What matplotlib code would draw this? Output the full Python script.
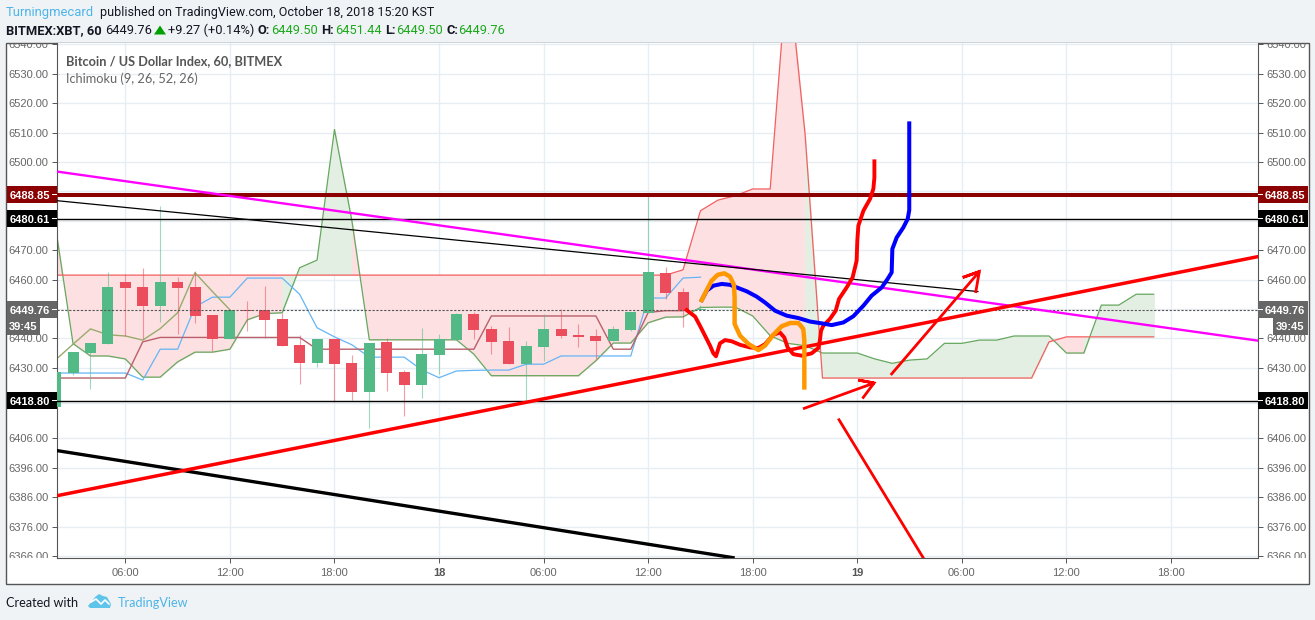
from matplotlib import pyplot as plt
from matplotlib.patches import Rectangle, Polygon
from matplotlib.transforms import Bbox

# hours relative to 18 Oct 00:00
candle_hours = [-22, -21, -20, -19, -18, -17, -16, -15, -14, -13, -12, -11, -10, -9, -8, -7, -6, -5, -4,
                -3, -2, -1, 0, 1, 2, 3, 4, 5, 6, 7, 8, 9, 10, 11, 12, 13, 14, 15]
opens = [6416.5, 6428.2, 6435.1, 6438.2, 6459.3, 6457.6, 6451.1, 6459.3, 6457.6, 6448.0, 6439.9, 6449.8, 6449.7,
         6446.7, 6437.8, 6431.7, 6439.9, 6431.7, 6421.8,
         6438.8, 6428.6, 6424.2, 6434.4, 6439.5, 6448.4, 6443.3, 6439.2, 6431.2, 6437.1, 6443.3, 6441.2, 6440.9,
         6439.2, 6442.9, 6448.7, 6462.3, 6455.9, 6449.50]
highs = [6428.4, 6435.4, 6438.5, 6462.7, 6461.9, 6464.0, 6485.0, 6461.0, 6463.0, 6448.0, 6449.9, 6452.8, 6457.9,
         6448.7, 6441.2, 6439.9, 6439.9, 6434.4, 6438.5,
         6440.2, 6429.3, 6443.6, 6441.6, 6448.7, 6449.0, 6444.3, 6443.9, 6439.2, 6448.4, 6450.0, 6445.0, 6443.3,
         6444.3, 6449.0, 6489.0, 6464.4, 6457.2, 6451.44]
lows = [6416.5, 6427.6, 6422.6, 6438.2, 6440.9, 6439.8, 6445.6, 6441.6, 6445.3, 6435.8, 6439.9, 6442.6, 6440.2,
        6437.5, 6424.6, 6430.1, 6418.2, 6419.1, 6409.6,
        6422.2, 6413.7, 6419.8, 6428.0, 6439.5, 6439.9, 6434.8, 6431.4, 6419.1, 6432.4, 6440.2, 6437.1, 6433.0,
        6439.2, 6442.6, 6448.7, 6453.5, 6443.9, 6449.50]
closes = [6428.4, 6435.4, 6438.5, 6457.6, 6457.2, 6451.1, 6459.3, 6457.2, 6447.7, 6439.9, 6449.7, 6449.4, 6446.3,
          6437.5, 6431.7, 6439.9, 6431.4, 6421.8, 6438.5,
          6428.3, 6424.2, 6434.8, 6439.9, 6448.4, 6442.9, 6438.8, 6431.4, 6437.5, 6443.3, 6440.9, 6440.5, 6439.2,
          6443.3, 6449.0, 6462.7, 6455.5, 6449.4, 6449.76]

cloud_hours = list(range(-22, 42))
lead_a = [6477.7, 6438.2, 6434.0, 6434.0, 6433.0, 6426.8, 6426.8, 6432.0, 6435.3, 6435.3, 6436.3, 6446.3, 6448.4,
          6448.7, 6464.0, 6466.6, 6511.0, 6480.0, 6439.5, 6439.5, 6439.5, 6439.5, 6439.5, 6439.5, 6434.6, 6427.3,
          6427.3, 6427.3, 6427.3, 6427.3, 6427.3, 6432.4, 6438.4, 6438.4, 6445.3, 6447.2, 6447.3, 6450.5, 6450.6,
          6450.6, 6447.6, 6440.9, 6438.3, 6437.5, 6435.0, 6435.0, 6435.0, 6433.0, 6431.5, 6432.6, 6433.0, 6438.3,
          6438.3, 6439.4, 6439.4, 6440.8, 6440.8, 6440.8, 6435.0, 6435.0, 6451.3, 6451.3, 6455.0, 6455.0]
lead_b = [6461.5, 6461.5, 6461.5, 6461.5, 6461.5, 6461.5, 6461.5, 6461.5, 6461.5, 6461.5, 6461.5, 6461.5, 6461.5,
          6461.5, 6461.5, 6461.5, 6461.5, 6461.5, 6461.5, 6461.5, 6461.5, 6461.5, 6461.5, 6461.5, 6461.5, 6461.5,
          6461.5, 6461.5, 6461.5, 6461.5, 6461.5, 6461.5, 6461.5, 6461.5, 6461.5, 6461.5, 6463.3, 6483.4, 6487.0,
          6488.5, 6490.8, 6490.8, 6567.0, 6509.6, 6426.5, 6426.5, 6426.5, 6426.5, 6426.5, 6426.5, 6426.5, 6426.5,
          6426.5, 6426.5, 6426.5, 6426.5, 6426.5, 6438.8, 6440.5, 6440.5, 6440.5, 6440.5, 6440.5, 6440.5]

line_hours = list(range(-22, 16))
conversion = [6428.2, 6428.2, 6428.2, 6428.2, 6428.2, 6425.8, 6436.3, 6436.3, 6450.7, 6454.0, 6454.0, 6460.5, 6460.5,
              6460.5, 6455.0, 6443.6, 6440.5, 6437.8, 6433.6, 6433.6, 6433.6, 6429.3, 6426.6, 6428.9, 6429.1, 6429.2,
              6429.2, 6431.2, 6431.2, 6434.0, 6434.0, 6434.0, 6434.0, 6434.0, 6453.7, 6453.7, 6460.5, 6460.8]
base_line = [6426.5, 6426.5, 6426.5, 6426.5, 6426.5, 6438.8, 6440.3, 6440.3, 6440.3, 6440.3, 6440.3, 6440.3, 6440.3,
             6440.3, 6440.3, 6436.3, 6436.3, 6436.3, 6436.3, 6436.3, 6436.3, 6436.3, 6436.3, 6436.3, 6436.3, 6447.6,
             6447.6, 6447.6, 6447.6, 6447.6, 6447.6, 6447.6, 6436.3, 6436.3, 6448.8, 6449.4, 6449.4]
lagging_hours = [-22, -21, -20, -19, -18, -17, -16, -15, -14, -13, -12]
lagging = [6432.7, 6438.0, 6443.2, 6441.2, 6440.8, 6439.4, 6443.3, 6448.7, 6462.3, 6455.9, 6449.7]

# hand drawn lines (hour, price)
magenta_x, magenta_y = [-21.9, 47.0], [6496.7, 6439.2]
thin_black_x, thin_black_y = [-21.9, 30.92], [6486.8, 6455.9]
red_trend_x, red_trend_y = [-21.9, 47.0], [6386.5, 6467.8]
thick_black_x, thick_black_y = [-21.9, 16.87], [6401.8, 6365.4]
red_curve_x = [14.21, 14.69, 14.97, 15.26, 15.55, 15.74, 15.89, 15.99, 16.12, 16.41, 16.79, 17.27, 17.84, 18.32, 18.70,
               19.18, 19.56, 19.81, 20.00, 20.33, 20.81, 21.38, 21.76, 21.85, 21.92, 22.05, 22.43, 22.76, 22.95, 23.39,
               23.73, 23.96, 24.00, 24.06, 24.35, 24.73, 24.92, 24.98, 24.98]
red_curve_y = [6449.6, 6447.4, 6444.3, 6440.9, 6437.5, 6434.9, 6433.9, 6435.8, 6438.3, 6439.4, 6439.0, 6437.8, 6436.9,
               6436.7, 6438.0, 6441.2, 6442.0, 6440.3, 6436.9, 6434.6, 6434.1, 6434.9, 6436.7, 6439.2, 6442.6, 6444.3,
               6446.6, 6449.4, 6453.4, 6457.3, 6460.7, 6466.4, 6473.2, 6478.3, 6483.4, 6487.4, 6490.8, 6494.7, 6500.2]
blue_curve_x = [15.07, 15.36, 15.74, 16.22, 16.69, 17.17, 17.65, 18.22, 18.70, 19.28, 19.95, 20.62, 21.29, 21.95, 22.53,
                23.20, 23.77, 24.35, 24.82, 25.40, 25.74, 25.97, 26.01, 26.26, 26.64, 26.89, 26.98, 26.98]
blue_curve_y = [6453.0, 6456.2, 6457.9, 6458.5, 6458.2, 6457.1, 6456.0, 6454.2, 6452.2, 6449.4, 6447.7, 6446.9, 6445.7,
                6445.1, 6444.5, 6445.4, 6447.5, 6451.1, 6454.5, 6457.3, 6460.2, 6462.4, 6470.4, 6474.3, 6477.7, 6480.6,
                6483.6, 6513.1]
orange_curve_x = [15.07, 15.36, 15.64, 15.99, 16.37, 16.69, 16.92, 16.96, 16.96, 17.27, 17.75, 18.32, 18.70, 19.18, 19.66,
                  20.14, 20.62, 20.90, 20.96, 20.96]
orange_curve_y = [6453.0, 6456.4, 6459.6, 6461.6, 6462.1, 6461.0, 6458.2, 6453.9, 6444.9, 6440.9, 6438.1, 6436.0, 6437.5,
                  6441.2, 6444.1, 6445.2, 6445.2, 6443.2, 6439.2, 6423.3]
arrow1_x = [20.96, 24.96, 24.06, 24.96, 24.34]
arrow1_y = [6416.2, 6424.8, 6425.8, 6424.8, 6419.9]
arrow2_x = [25.97, 31.0, 30.05, 31.0, 30.8]
arrow2_y = [6427.9, 6462.7, 6460.7, 6462.7, 6455.9]
red_diag_x, red_diag_y = [22.95, 27.88], [6412.3, 6364.4]

y_ticks = [6540, 6530, 6520, 6510, 6500, 6490, 6480, 6470, 6460, 6450, 6440, 6430, 6418, 6406, 6396, 6386, 6376, 6366]
y_labels = ['6540.00', '6530.00', '6520.00', '6510.00', '6500.00', '', '', '6470.00', '6460.00', '', '6440.00',
            '6430.00', '', '6406.00', '6396.00', '6386.00', '6376.00', '6366.00']
x_ticks = [-18, -12, -6, 0, 6, 12, 18, 24, 30, 36, 42]
x_labels = ['06:00', '12:00', '18:00', '18', '06:00', '12:00', '18:00', '19', '06:00', '12:00', '18:00']

# price, text, colour of the scale tags
tag_prices = [6488.85, 6480.61, 6449.76, 6418.80]
tag_texts = ['6488.85', '6480.61', '6449.76', '6418.80']
tag_colors = ['#8b0000', '#000000', '#666666', '#000000']

GREEN = '#53b987'
RED = '#eb4d5c'
BG = '#f0f3f6'
W, H = 1315, 620
SANS = 'Liberation Sans'
HEAD = 'Lato'
TOP = 'Roboto'


def fx(x):
    return x / W


def fy(y):
    return 1 - y / H


def box(x0, y0, x1, y1, **kw):
    fig.patches.append(Rectangle((fx(x0), fy(y1)), (x1 - x0) / W, (y1 - y0) / H, transform=fig.transFigure, **kw))


def label(x, y, s, color='#131722', size=9.6, weight='normal', family=HEAD, ha='left'):
    return fig.text(fx(x), fy(y), s, color=color, fontsize=size, fontweight=weight, family=family, ha=ha,
                    va='center_baseline', zorder=20)


fig = plt.figure(figsize=(W / 100, H / 100), dpi=100, facecolor=BG)
box(6.5, 43, 1309, 584, facecolor='white', edgecolor='#555555', linewidth=1, zorder=-5)

ax = fig.add_axes([fx(57), fy(558), 1201 / W, 515 / H])
ax.set_facecolor('white')
ax.set_xlim(-21.92, 46.99)
ax.set_ylim(6365.29, 6540.44)
for s in ['left', 'right', 'bottom']:
    ax.spines[s].set_color('#555555')
ax.spines['top'].set_visible(False)

ax.set_yticks(y_ticks)
ax.set_yticklabels(y_labels, family=SANS, fontsize=8, color='#666666')
ax.set_xticks(x_ticks)
ax.set_xticklabels(x_labels, family=SANS, fontsize=8, color='#666666')
ax.tick_params(axis='y', left=True, right=True, labelleft=True, labelright=True, length=3.5, width=0.7,
               color='#555555', pad=2.5)
ax.tick_params(axis='x', length=3.5, width=0.7, color='#555555', pad=4)
for lab in ax.get_xticklabels():
    if lab.get_text() in ('18', '19'):
        lab.set_fontweight('bold')
        lab.set_color('#555555')
# the scale cuts off labels at the top and bottom of the pane
clip = Bbox([[0, (H - 558)], [W, (H - 43)]])
for t in ax.yaxis.get_major_ticks():
    for lab in (t.label1, t.label2):
        lab.set_clip_on(True)
        lab.set_clip_box(clip)
ax.grid(True, color='#e6edf3', linewidth=1.0, zorder=0)
ax.set_axisbelow(True)

# cloud, coloured bar by bar from the right hand value like tradingview does
for i in range(len(cloud_hours) - 1):
    c = '#e4efe4' if lead_a[i + 1] >= lead_b[i + 1] else '#fde0e2'
    ax.fill_between(cloud_hours[i:i + 2], lead_a[i:i + 2], lead_b[i:i + 2], color=c, linewidth=0.6, antialiased=False,
                    zorder=1)

ax.plot(cloud_hours, lead_a, color='#66a85f', lw=0.9, zorder=2)
ax.plot(cloud_hours, lead_b, color='#f2605f', lw=0.9, zorder=2)
ax.plot(line_hours, conversion, color='#64b5f6', lw=0.9, zorder=2)
ax.plot(line_hours[:len(base_line)], base_line, color='#b9606a', lw=1.0, zorder=2)
ax.plot(lagging_hours, lagging, color='#98ab6c', lw=1.0, zorder=2)

# candles
for h, o, hi, lo, c in zip(candle_hours, opens, highs, lows, closes):
    col = GREEN if c >= o else RED
    ax.vlines(h, lo, hi, color=col, alpha=0.55, lw=0.8, zorder=3)
    ax.bar(h, max(abs(c - o), 0.4), bottom=min(o, c), width=0.63, color=col, linewidth=0, zorder=3)

ax.axhline(6449.76, color='#555555', lw=0.8, ls=(0, (2, 1.5)), zorder=4)
ax.axhline(6488.85, color='#8b0000', lw=2.9, zorder=4)
ax.axhline(6480.61, color='black', lw=1.0, zorder=4)
ax.axhline(6418.80, color='black', lw=1.0, zorder=4)

ax.plot(magenta_x, magenta_y, color='#ff00ff', lw=1.7, zorder=5)
ax.plot(thin_black_x, thin_black_y, color='black', lw=0.9, zorder=5)
ax.plot(thick_black_x, thick_black_y, color='black', lw=2.4, zorder=5)
ax.plot(red_trend_x, red_trend_y, color='#ff0000', lw=2.5, zorder=5)
ax.plot(red_diag_x, red_diag_y, color='#ff0000', lw=2.0, zorder=6)
ax.plot(arrow1_x, arrow1_y, color='#ff0000', lw=2.0, solid_joinstyle='miter', zorder=6)
ax.plot(arrow2_x, arrow2_y, color='#ff0000', lw=2.0, solid_joinstyle='miter', zorder=6)
ax.plot(red_curve_x, red_curve_y, color='#ff0000', lw=2.8, solid_joinstyle='round', zorder=7)
ax.plot(blue_curve_x, blue_curve_y, color='#0000ff', lw=2.9, solid_joinstyle='round', zorder=8)
ax.plot(orange_curve_x, orange_curve_y, color='#ff9800', lw=3.2, solid_joinstyle='round', zorder=9)

# price tags on both scales
fig.canvas.draw()
for price, txt, col in zip(tag_prices, tag_texts, tag_colors):
    yc = H - ax.transData.transform((0, price))[1]
    for x0, x1, tx in [(7, 51, 29.5), (1264, 1308, 1285)]:
        box(x0, yc - 8.5, x1, yc + 8.5, facecolor=col, edgecolor='none', zorder=15)
        label(tx, yc, txt, color='white', size=8, weight='bold', family=SANS, ha='center')
    for x0, x1 in [(51, 57), (1258, 1264)]:
        box(x0, yc - 8.5, x1, yc + 8.5, facecolor=col, edgecolor='none', zorder=15)
    for x0, x1 in [(52, 57), (1258, 1263)]:
        box(x0, yc - 0.5, x1, yc + 0.5, facecolor='white', edgecolor='none', zorder=16)

for x0, x1 in [(7, 40), (1273, 1308)]:
    box(x0, 318, x1, 335, facecolor='#666666', edgecolor='none', zorder=15)
    label((x0 + x1) / 2, 326.5, '39:45', color='white', size=8, weight='bold', family=SANS, ha='center')

# header
label(6, 11, 'Turningmecard', color='#4db4e8', size=9.4, family=TOP)
label(99.5, 11, 'published on TradingView.com, October 18, 2018 15:20 KST', size=8.97, family=TOP)
label(6, 29, 'BITMEX:XBT, 60', weight='bold', size=9.3, family=TOP)
label(105, 29, '6449.76', size=9.3, family=TOP)
fig.patches.append(Polygon([(fx(154), fy(34.5)), (fx(166), fy(34.5)), (fx(160), fy(25.5))], closed=True,
                           transform=fig.transFigure, facecolor='#00a000', edgecolor='none'))
label(168, 29, '+9.27 (+0.14%)', size=9.3, family=TOP)
for x_key, key, x_val, val in [(257, 'O:', 271, '6449.50'), (321.5, 'H:', 335, '6451.44'),
                               (385.5, 'L:', 396, '6449.50'), (446.5, 'C:', 458, '6449.76')]:
    label(x_key, 29, key, weight='bold', size=9.3, family=TOP)
    label(x_val, 29, val, color='#1ca81c', size=9.2, family=TOP)

label(66, 60.5, 'Bitcoin / US Dollar Index, 60, BITMEX', color='#555555', weight='bold', size=9.2)
label(66, 77.5, 'Ichimoku (9, 26, 52, 26)', color='#666666', size=9.2)

# footer
label(6, 602, 'Created with', size=9.1)
label(118, 602, 'TradingView', color='#4db4e8', size=9.1)
logo = [(88, 606), (92, 601), (95, 597), (99, 594), (103, 596), (107, 597), (111, 604), (110, 608), (90, 608)]
fig.patches.append(Polygon([(fx(a), fy(b)) for a, b in logo], closed=True, transform=fig.transFigure,
                           facecolor='#5ec4ea', edgecolor='none'))
zig = [(91, 602), (96, 599), (101, 604), (105, 600), (109, 604)]
fig.add_artist(plt.Line2D([fx(a) for a, b in zig], [fy(b) for a, b in zig], color='white', lw=1.2,
                          transform=fig.transFigure))

fig.savefig('out.png', dpi=100, facecolor=BG)
